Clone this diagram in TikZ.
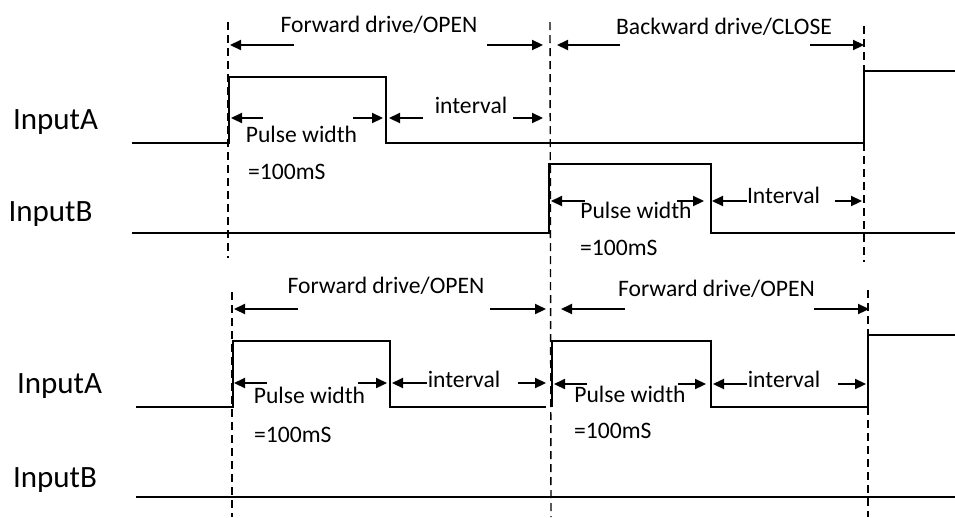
\documentclass[tikz,border=0pt]{standalone}
\usepackage{fontspec}
\setmainfont{Carlito}
\usetikzlibrary{arrows.meta}
\begin{document}
\begin{tikzpicture}[x=1pt,y=-1pt,
  wave/.style={line width=2pt,line join=miter},
  guide/.style={line width=1.4pt,dash pattern=on 8pt off 5pt},
  dim/.style={line width=2.2pt,-{Triangle[length=11pt,width=10pt]}},
  lbl/.style={inner sep=0pt,anchor=base,font=\fontsize{23.6}{28}\selectfont},
  sig/.style={inner sep=0pt,anchor=base,font=\fontsize{31}{37}\selectfont}]
\useasboundingbox (0,0) rectangle (955,517);

% guide lines
\draw[guide] (228,22) -- (228,258);
\draw[guide] (550,22) -- (551,517);
\draw[guide] (864,26) -- (864,262);
\draw[guide] (232,292) -- (232,517);
\draw[guide] (868,290) -- (868,517);

% signal names
\node[sig] (a1) at (55.5,129) {InputA};
\node[sig] (b1) at (50.5,221) {InputB};
\node[sig] (a2) at (59.5,393) {InputA};
\node[sig] (b2) at (55,487) {InputB};

% waveforms, upper diagram
\draw[wave] (132,143) -- (229,143) -- (229,77) -- (386,77) -- (386,143) -- (864,143) -- (864,71) -- (955,71);
\draw[wave] (132,233) -- (549,233) -- (549,164) -- (711,164) -- (711,233) -- (955,233);
% waveforms, lower diagram
\draw[wave] (136,407) -- (233,407) -- (233,341) -- (390,341) -- (390,407) -- (546,407);
\draw[wave] (552,407) -- (552,341) -- (711,341) -- (711,407) -- (868,407) -- (868,335) -- (955,335);
\draw[wave] (136,497) -- (955,497);

% texts, upper diagram
\node[lbl] (t1) at (379,32) {Forward drive/OPEN};
\node[lbl] (t2) at (724,34) {Backward drive/CLOSE};
\node[lbl] (p1) at (301.5,142) {Pulse width};
\node[lbl,anchor=base west] (m1) at (248,179) {=100mS};
\node[lbl] (i1) at (471,113) {interval};
\node[lbl] (p2) at (636,218) {Pulse width};
\node[lbl,anchor=base west] (m2) at (580,255) {=100mS};
\node[lbl] (i2) at (783.5,203) {Interval};

% texts, lower diagram
\node[lbl] (t3) at (386,293) {Forward drive/OPEN};
\node[lbl] (t4) at (716.5,296) {Forward drive/OPEN};
\node[lbl] (p3) at (309.5,403) {Pulse width};
\node[lbl,anchor=base west] (m3) at (254,442) {=100mS};
\node[lbl] (i3) at (464,387) {interval};
\node[lbl] (p4) at (630,402) {Pulse width};
\node[lbl,anchor=base west] (m4) at (574,438) {=100mS};
\node[lbl] (i4) at (784,387) {interval};

% dimension arrows, upper diagram
\draw[dim] (294,45) -- (230,45);
\draw[dim] (487,45) -- (543,45);
\draw[dim] (620,45) -- (557,45);
\draw[dim] (810,45) -- (864,45);
\draw[dim] (263,118) -- (231,118);
\draw[dim] (353,118) -- (383,118);
\draw[dim] (423,118) -- (389,118);
\draw[dim] (513,118) -- (543,118);
\draw[dim] (585,201) -- (551,201);
\draw[dim] (677,201) -- (704,201);
\draw[dim] (747,201) -- (712,201);
\draw[dim] (835,201) -- (862,201);

% dimension arrows, lower diagram
\draw[dim] (298,309) -- (234,309);
\draw[dim] (490,309) -- (546,309);
\draw[dim] (625,309) -- (561,309);
\draw[dim] (814,309) -- (869,309);
\draw[dim] (267,383) -- (234,383);
\draw[dim] (358,383) -- (387,383);
\draw[dim] (427,383) -- (392,383);
\draw[dim] (518,383) -- (546,383);
\draw[dim] (587,384) -- (554,384);
\draw[dim] (678,384) -- (706,384);
\draw[dim] (747,384) -- (713,384);
\draw[dim] (838,384) -- (866,384);
\end{tikzpicture}
\end{document}
